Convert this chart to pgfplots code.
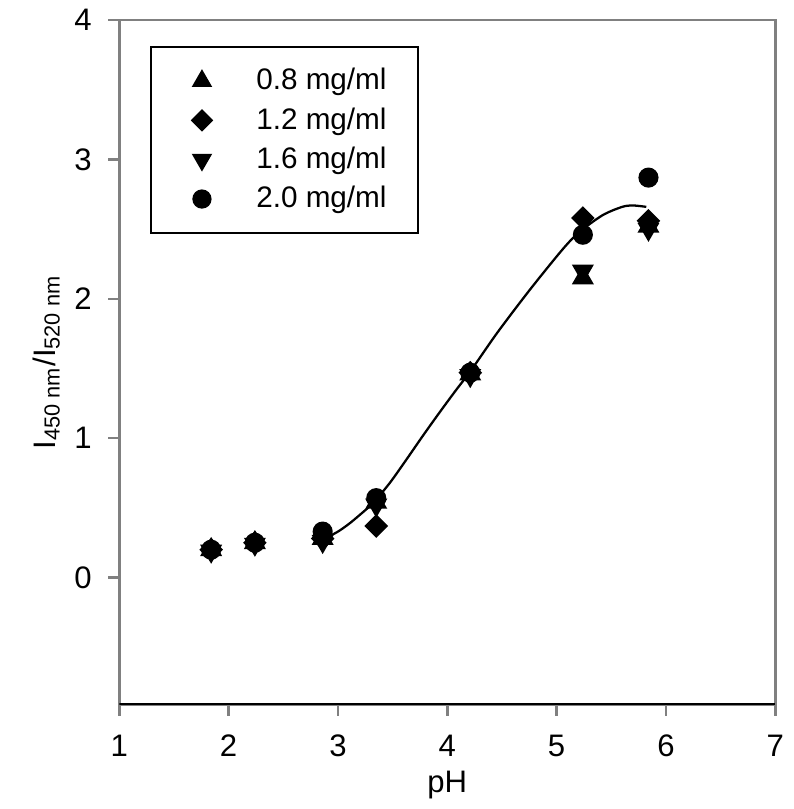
\documentclass[border=0pt]{standalone}
\usepackage{pgfplots}
\pgfplotsset{compat=1.18}
\usepackage{fontspec}
\setmainfont{Liberation Sans}
\pgfplotsset{mymarks/.style={draw=none, mark options={draw=black, fill=black, solid}}}
\begin{document}
\begin{tikzpicture}
\begin{axis}[
  name=ax,
  scale only axis=true,
  width=232pt, height=242pt,
  xmin=1, xmax=7, ymin=-0.91, ymax=4,
  xtick={1,2,3,4,5,6,7}, ytick={0,1,2,3,4},
  tick align=outside, xtick pos=bottom, ytick pos=left,
  major tick length=4pt,
  tick style={gray, line width=0.9pt},
  axis line style={gray, line width=0.9pt},
  every axis/.append style={line width=0.9pt},
  /pgf/number format/assume math mode=true,
  ticklabel style={font=\fontsize{11}{13}\selectfont},
  xticklabel style={yshift=-3pt},
  yticklabel style={xshift=-2pt},
  label style={font=\fontsize{11}{13}\selectfont},
  xlabel={pH},
  ylabel={I\textsubscript{450 nm}/I\textsubscript{520 nm}},
  xlabel style={yshift=2pt},
  ylabel style={yshift=-2pt},
  legend style={at={(rel axis cs:0.047,0.962)}, anchor=north west, draw=black, line width=0.6pt,
    font=\fontsize{10.5}{12.5}\selectfont, inner xsep=3.8pt, inner ysep=6.5pt, row sep=2.8pt,
    nodes={inner ysep=1pt}},
  legend cell align=left,
  legend image code/.code={\path[mark repeat=2,mark phase=2] plot coordinates {(0cm,0cm) (0.5cm,0cm) (0.82cm,0cm)};},
]
\addplot[mymarks, mark=triangle*, mark size=3.6pt] coordinates {
 (1.84,0.20) (2.24,0.25) (2.86,0.28) (3.35,0.54) (4.21,1.46) (5.24,2.15) (5.84,2.52)};
\addlegendentry{\hspace*{8.1pt}0.8 mg/ml\hspace*{5.4pt}}
\addplot[mymarks, mark=square*, mark size=2.5pt, mark options={rotate=45}] coordinates {
 (1.84,0.20) (2.24,0.25) (2.86,0.28) (3.35,0.37) (4.21,1.47) (5.24,2.58) (5.84,2.56)};
\addlegendentry{\hspace*{8.1pt}1.2 mg/ml\hspace*{5.4pt}}
\addplot[mymarks, mark=triangle*, mark size=3.6pt, mark options={rotate=180}] coordinates {
 (1.84,0.19) (2.24,0.24) (2.86,0.26) (3.35,0.52) (4.21,1.45) (5.24,2.20) (5.84,2.50)};
\addlegendentry{\hspace*{8.1pt}1.6 mg/ml\hspace*{5.4pt}}
\addplot[mymarks, mark=*, mark size=3.1pt] coordinates {
 (1.84,0.20) (2.24,0.25) (2.86,0.33) (3.35,0.57) (4.21,1.47) (5.24,2.46) (5.84,2.87)};
\addlegendentry{\hspace*{8.1pt}2.0 mg/ml\hspace*{5.4pt}}
\addplot[black, line width=0.8pt, smooth, no marks, forget plot] coordinates {
 (2.88,0.28) (3.0,0.33) (3.1,0.385) (3.2,0.45) (3.32,0.535) (3.47,0.675) (3.62,0.84) (3.77,1.01)
 (3.92,1.175) (4.07,1.335) (4.22,1.49) (4.46,1.76) (4.76,2.07) (5.06,2.36) (5.21,2.48) (5.42,2.60)
 (5.60,2.66) (5.70,2.67) (5.82,2.66)};
\draw[black, line width=0.9pt] (rel axis cs:0,0) -- (rel axis cs:1,0);
\end{axis}
\path ([shift={(-42.2pt,-37pt)}]ax.south west) rectangle ([shift={(5.6pt,6pt)}]ax.north east);
\end{tikzpicture}
\end{document}
